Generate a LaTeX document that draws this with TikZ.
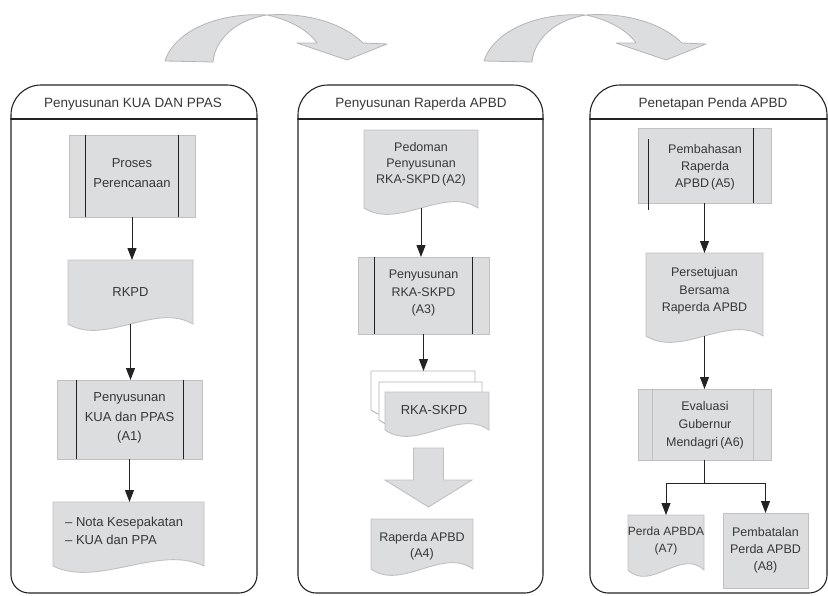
\documentclass[tikz,border=0pt]{standalone}
\usepackage{fontspec}
\setmainfont{Liberation Sans}
\usetikzlibrary{arrows.meta,calc}

\definecolor{boxfill}{RGB}{220,221,223}
\definecolor{boxline}{RGB}{192,192,195}
\definecolor{ink}{RGB}{35,35,35}
\definecolor{txt}{RGB}{55,55,55}
\definecolor{bandline}{RGB}{180,180,183}
\definecolor{paleline}{RGB}{150,150,153}

\tikzset{
  panel/.style={draw=ink, line width=1.1pt},
  body/.style={rectangle, inner sep=0pt, outer sep=0pt},
  procbox/.style={body, draw=boxline, fill=boxfill, line width=0.9pt},
  docstyle/.style={draw=boxline, fill=boxfill, line width=0.9pt},
  ghostdoc/.style={draw=bandline, fill=white, line width=0.9pt},
  innerline/.style={draw=ink, line width=0.9pt},
  label/.style={align=center, text=txt, inner sep=0pt, font=\fontsize{13}{18}\selectfont},
  title/.style={text=txt, inner sep=0pt, font=\fontsize{13.5}{16}\selectfont},
  arr/.style={draw=ink, line width=0.9pt, -{Triangle[length=12pt,width=9pt]}},
  band/.style={fill=boxfill, draw=bandline, line width=0.8pt, line join=round}
}

% wavy-bottomed document outline around a body node
\newcommand\docoutline[2][docstyle]{%
  \draw[#1] (#2.north west) -- (#2.north east) -- (#2.south east)
    .. controls ($(#2.south west)!0.7!(#2.south east)+(0,-22)$)
           and ($(#2.south west)!0.3!(#2.south east)+(0,22)$) .. (#2.south west) -- cycle;}

\begin{document}
\begin{tikzpicture}[x=1pt,y=-1pt]
\path[use as bounding box] (0,0) rectangle (828,595);

% ---------- curved transition arrows ----------
\foreach \dx/\nm in {0/one,319/two}{
  \begin{scope}[xshift=\dx pt]
    \path[band] (165,61) .. controls (175,30) and (220,12) .. (267,15)
      .. controls (310,12) and (345,25) .. (363,43)
      -- (387,44) -- (347,60) -- (297,43) -- (317,43)
      .. controls (308,30) and (290,20) .. (267,15)
      .. controls (235,20) and (215,40) .. (213,62) -- cycle;
    \coordinate (flow-\nm) at (267,15);
  \end{scope}
}

% ---------- swimlane panels ----------
\foreach \xa/\xb/\nm in {11/257/kua, 298/543/rap, 590/827/pen}{
  \draw[panel, rounded corners=30pt] (\xa,120) -- (\xa,85) -- (\xb,85) -- (\xb,120);
  \draw[panel, rounded corners=18pt] (\xa,118) -- (\xa,593) -- (\xb,593) -- (\xb,118);
  \draw[panel] (\xa,119) -- (\xb,119);
  \coordinate (lane-\nm) at ({(\xa+\xb)/2},119);
}
\node[title] (t1) at (133,104) {Penyusunan KUA DAN PPAS};
\node[title] (t2) at (421,104) {Penyusunan Raperda APBD};
\node[title] (t3) at (713,104) {Penetapan Penda APBD};

% ---------- lane 1 ----------
\node[procbox, minimum width=126pt, minimum height=82pt] (proc1) at (132,176) {};
\draw[innerline] (85,135) -- (85,217);
\draw[innerline] (178,135) -- (178,217);
\node[label, font=\fontsize{13}{20}\selectfont] (proc1t) at (132,173) {Proses\\Perencanaan};

\node[body, minimum width=125pt, minimum height=64pt] (rkpd) at (130.5,292) {};
\docoutline{rkpd}
\node[label] (rkpdt) at (130.5,292) {RKPD};

\node[procbox, minimum width=145pt, minimum height=79pt] (a1) at (129.5,419.5) {};
\draw[innerline] (76,380) -- (76,459);
\draw[innerline] (183,380) -- (183,459);
\node[label, font=\fontsize{13}{19.5}\selectfont] (a1t) at (129.5,418) {Penyusunan\\KUA dan PPAS\\(A1)};

\node[body, minimum width=151pt, minimum height=64pt] (nota) at (128.5,534) {};
\docoutline{nota}
\node[label, align=left, anchor=west, font=\fontsize{13}{18.5}\selectfont] (notat) at (65,531) {– Nota Kesepakatan\\– KUA dan PPA};

\draw[arr] (proc1.south) -- (proc1.south |- rkpd.north);
\draw[arr, line width=1.3pt] (rkpd.south) -- (rkpd.south |- a1.north);
\draw[arr] (a1.south) -- (a1.south |- nota.north);

% ---------- lane 2 ----------
\node[body, minimum width=114pt, minimum height=78pt] (a2) at (421,169) {};
\docoutline{a2}
\node[label, font=\fontsize{12.5}{16}\selectfont] (a2t) at (421,164) {Pedoman\\Penyusunan\\RKA-SKPD\,(A2)};

\node[procbox, minimum width=131pt, minimum height=77pt] (a3) at (423.5,295.5) {};
\draw[innerline] (374,257) -- (374,334);
\draw[innerline] (472,257) -- (472,334);
\node[label, font=\fontsize{12.5}{17.5}\selectfont] (a3t) at (423.5,293) {Penyusunan\\RKA-SKPD\\(A3)};

\node[body, minimum width=104pt, minimum height=39pt] (rkback) at (423,390.5) {};
\docoutline[ghostdoc]{rkback}
\node[body, minimum width=103pt, minimum height=38pt] (rkmid) at (430.5,401) {};
\docoutline[ghostdoc]{rkmid}
\node[body, minimum width=104pt, minimum height=38pt] (rkfront) at (437,411) {};
\docoutline{rkfront}
\node[label] (rkt) at (434,410) {RKA-SKPD};

% broad block arrow down to the draft regulation
\coordinate (blk-top) at (428.5,448);
\coordinate (blk-tip) at (428.5,507);
\path[docstyle] ($(blk-top)+(-15,0)$) -- ($(blk-top)+(15,0)$) -- (443.5,480) -- (472,480)
  -- (blk-tip) -- (385,480) -- (413.5,480) -- cycle;

\node[body, minimum width=102pt, minimum height=50pt] (a4) at (422,544) {};
\docoutline{a4}
\node[label, font=\fontsize{12.5}{16}\selectfont] (a4t) at (422,546) {Raperda APBD\\(A4)};

\draw[arr] (a2.south) -- (a2.south |- a3.north);
\draw[arr] (a3.south) -- (a3.south |- rkback.north);

% ---------- lane 3 ----------
\node[procbox, minimum width=133pt, minimum height=75pt] (a5) at (704.5,165.5) {};
\draw[innerline] (648,139) -- (648,210);
\draw[innerline] (753,128) -- (753,203);
\node[label, font=\fontsize{12.5}{17}\selectfont] (a5t) at (705,167) {Pembahasan\\Raperda\\APBD\,(A5)};

\node[body, minimum width=117pt, minimum height=83pt] (agree) at (704.5,294.5) {};
\docoutline{agree}
\node[label, font=\fontsize{12.5}{17.5}\selectfont] (agreet) at (704.5,291) {Persetujuan\\Bersama\\Raperda APBD};

\node[procbox, minimum width=133pt, minimum height=71pt] (a6) at (704.5,424.5) {};
\draw[boxline, line width=0.9pt] (652,389) -- (652,460);
\draw[boxline, line width=0.9pt] (753,389) -- (753,460);
\node[label, font=\fontsize{12.5}{18}\selectfont] (a6t) at (705,425) {Evaluasi\\Gubernur\\Mendagri\,(A6)};

\node[body, minimum width=76pt, minimum height=55pt] (a7) at (666,542.5) {};
\docoutline{a7}
\node[label, font=\fontsize{12}{17}\selectfont] (a7t) at (666,541) {Perda APBDA\\(A7)};

\node[procbox, minimum width=85pt, minimum height=75pt] (a8) at (765.5,550.5) {};
\node[label, font=\fontsize{12.5}{17}\selectfont] (a8t) at (765.5,550) {Pembatalan\\Perda APBD\\(A8)};

\draw[arr] (a5.south) -- (a5.south |- agree.north);
\draw[arr] (agree.south) -- (agree.south |- a6.north);
\draw[draw=ink, line width=0.9pt] (a6.south) -- ++(0,23) coordinate (split);
\draw[arr] (split) -| (a7.north);
\draw[arr] (split) -| (a8.north);

\end{tikzpicture}
\end{document}
